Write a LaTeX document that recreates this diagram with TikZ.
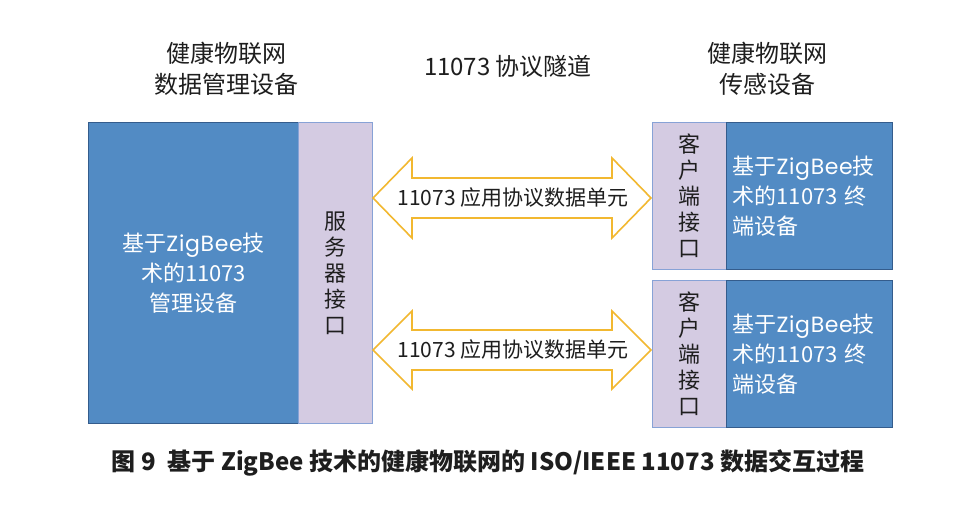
\documentclass[tikz,border=0pt]{standalone}
\usepackage{fontspec}
\setmainfont{Noto Sans CJK SC}
\newfontfamily\geo{Poppins}
\newcommand{\zb}{{\geo\addfontfeatures{LetterSpace=3}ZigBee}}
\definecolor{boxblue}{RGB}{82,139,196}
\definecolor{boxedge}{RGB}{52,92,140}
\definecolor{lav}{RGB}{212,203,226}
\definecolor{lavedge}{RGB}{135,162,214}
\definecolor{gold}{RGB}{242,184,48}
\definecolor{ink}{RGB}{30,30,30}
\tikzset{
  bluebox/.style={draw=boxedge, line width=1.2pt, fill=boxblue, text=white, inner sep=0pt, anchor=north west},
  lavbox/.style={draw=lavedge, line width=1.2pt, fill=lav, text=ink, inner sep=0pt, anchor=north west, align=center, font=\fontsize{22}{26}\selectfont},
  arrowshape/.style={draw=gold, line width=1.6pt, fill=white, line join=miter},
  arrowlabel/.style={text=ink, font=\fontsize{21}{24}\selectfont, inner sep=0pt},
  title/.style={text=ink, align=center, font=\fontsize{24}{31}\selectfont}
}
\begin{document}
\begin{tikzpicture}[x=1pt,y=-1pt]
\useasboundingbox (0,0) rectangle (960,508);
\fill[white] (0,0) rectangle (960,508);

% titles
\node[title] (tl) at (226,69) {健康物联网\\数据管理设备};
\node[title] (tm) at (508,66) {11073 协议隧道};
\node[title] (tr) at (767,69) {健康物联网\\传感设备};

% left side
\node[bluebox, minimum width=210pt, minimum height=301pt, align=center,
      font=\fontsize{22}{30}\selectfont] (mgr) at (88,122) {基于\zb 技\\术的11073\\管理设备};
\node[lavbox, minimum width=74pt, minimum height=301pt] (srv) at (298,122) {服\\务\\器\\接\\口};

% right side
\node[lavbox, minimum width=74pt, minimum height=147pt] (c1) at (652,122) {客\\户\\端\\接\\口};
\node[bluebox, minimum width=164pt, minimum height=147pt, text width=154pt, inner xsep=6pt, align=left,
      font=\fontsize{22}{30}\selectfont] (d1) at (726,122) {基于\zb 技\\术的11073 终\\端设备};
\node[lavbox, minimum width=74pt, minimum height=147pt] (c2) at (652,280) {客\\户\\端\\接\\口};
\node[bluebox, minimum width=164pt, minimum height=147pt, text width=154pt, inner xsep=6pt, align=left,
      font=\fontsize{22}{30}\selectfont] (d2) at (726,280) {基于\zb 技\\术的11073 终\\端设备};

% double arrows between interfaces
\coordinate (a1l) at (373,198);
\coordinate (a1r) at (651,198);
\draw[arrowshape] (a1l) -- ++(39,-40) -- ++(0,20) -- ++(200,0) -- ++(0,-20) -- (a1r)
  -- ++(-39,40) -- ++(0,-20) -- ++(-200,0) -- ++(0,20) -- cycle;
\node[arrowlabel] (l1) at (513,198) {11073 应用协议数据单元};

\coordinate (a2l) at (373,350);
\coordinate (a2r) at (651,350);
\draw[arrowshape] (a2l) -- ++(39,-39) -- ++(0,19) -- ++(200,0) -- ++(0,-19) -- (a2r)
  -- ++(-39,39) -- ++(0,-19) -- ++(-200,0) -- ++(0,19) -- cycle;
\node[arrowlabel] (l2) at (513,350) {11073 应用协议数据单元};

% caption
\node[text=ink, font=\fontsize{24}{28}\selectfont\bfseries] (cap) at (488,463)
  {图 9\hspace{0.5em}基于 ZigBee 技术的健康物联网的 ISO/IEEE 11073 数据交互过程};
\end{tikzpicture}
\end{document}
